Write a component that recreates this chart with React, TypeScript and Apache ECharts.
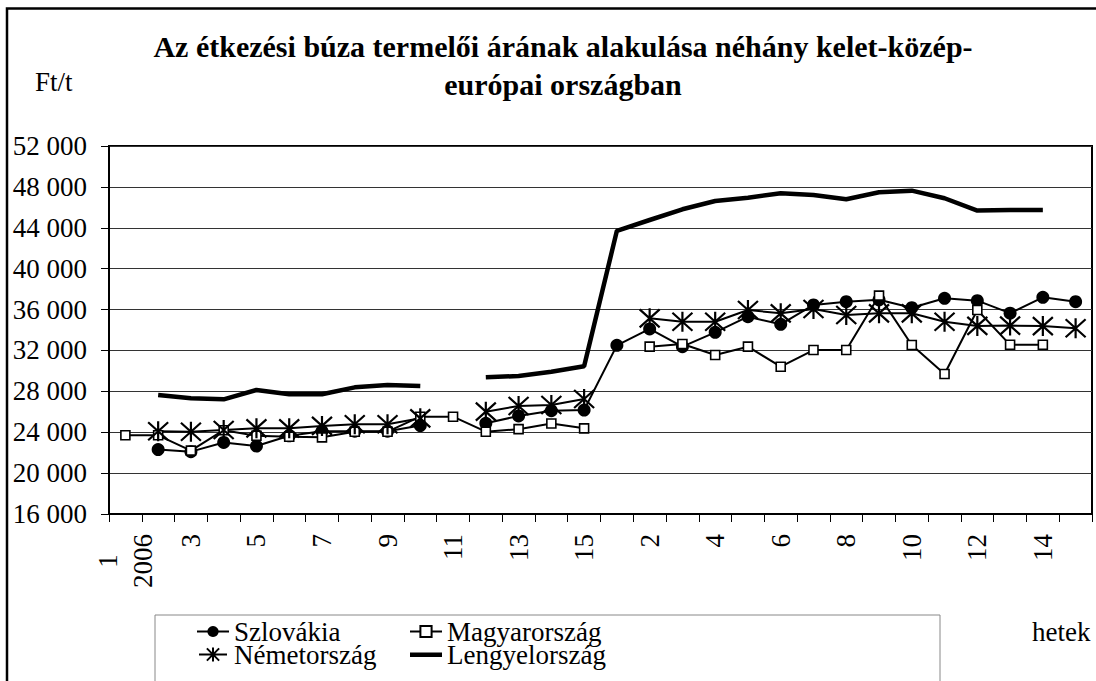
import React, { useEffect, useRef } from "react";
import * as echarts from "echarts";

const categories = ["1\n2006", "2", "3", "4", "5", "6", "7", "8", "9", "10", "11", "12", "13", "14", "15",
  "1", "2", "3", "4", "5", "6", "7", "8", "9", "10", "11", "12", "13", "14", "15"];

const szlovakia = [null, 22300, 22100, 23000, 22650, 23650, 24100, 24100, 24100, 24650, null, 24870, 25590, 26110, 26170,
  32500, 34100, 32370, 33770, 35300, 34560, 36450, 36770, 36950, 36180, 37100, 36870, 35650, 37200, 36770];
const magyarorszag = [23700, 23700, 22200, 24200, 23650, 23550, 23500, 24050, 24050, 25520, 25520, 24050, 24300, 24850, 24380,
  null, 32370, 32630, 31550, 32370, 30410, 32040, 32040, 37360, 32530, 29700, 35960, 32550, 32550, null];
const nemetorszag = [null, 24100, 24050, 24220, 24380, 24380, 24620, 24780, 24780, 25360, null, 26010, 26570, 26660, 27250,
  null, 35140, 34810, 34810, 35960, 35630, 36050, 35470, 35630, 35630, 34810, 34400, 34430, 34380, 34170];
const lengyelorszag = [null, 27640, 27320, 27220, 28130, 27710, 27710, 28390, 28620, 28520, null, 29370, 29500, 29920, 30450,
  43700, 44760, 45810, 46620, 46940, 47370, 47210, 46790, 47470, 47630, 46890, 45680, 45740, 45740, null];

const FONT = "Liberation Serif";
const STAR = "path://M10,0L10,20M1,1L19,19M1,19L19,1";
const STAR_LEGEND = "path://M0,10L32,10M16,2L16,18M9,3L23,17M9,17L23,3";
const THICK_LEGEND = "path://M0,0L0.01,0L0,0.01Z M0,5L32,5L32,9.5L0,9.5Z M0,14L0.01,14L0,13.99Z";

export default function App() {
  const ref = useRef<HTMLDivElement>(null);
  useEffect(() => {
    if (!ref.current) return;
    const chart = echarts.init(ref.current, null, { renderer: "svg" });
    const legendText = { fontFamily: FONT, fontSize: 27, color: "#000", lineHeight: 23 };
    chart.setOption({
      animation: false,
      backgroundColor: "#fff",
      title: {
        text: "Az étkezési búza termelői árának alakulása néhány kelet-közép-\neurópai országban",
        left: 558,
        top: 22,
        textAlign: "center",
        textStyle: { fontFamily: FONT, fontSize: 30, fontWeight: "bold", color: "#000", lineHeight: 38 },
      },
      grid: {
        left: 109, right: 4, top: 146, bottom: 167,
        show: true, borderColor: "#000", borderWidth: 2, backgroundColor: "transparent",
      },
      legend: [
        {
          orient: "vertical", left: 191, top: 613, height: 120, itemGap: -4, itemWidth: 32, itemHeight: 14,
          data: [
            { name: "Szlovákia" },
            { name: "Németország", icon: STAR_LEGEND, itemStyle: { color: "#000", borderColor: "#000", borderWidth: 2 } },
          ],
          textStyle: legendText,
        },
        {
          orient: "vertical", left: 404, top: 613, height: 120, itemGap: -4, itemWidth: 32, itemHeight: 14,
          data: [
            { name: "Magyarország" },
            { name: "Lengyelország", icon: THICK_LEGEND, itemStyle: { color: "#000", borderWidth: 0 } },
          ],
          textStyle: legendText,
        },
      ],
      xAxis: {
        type: "category",
        data: categories,
        boundaryGap: true,
        axisLine: { lineStyle: { color: "#000", width: 2 } },
        axisTick: { show: true, interval: 0, length: 8, lineStyle: { color: "#000", width: 1 } },
        axisLabel: {
          interval: 1,
          rotate: 90,
          margin: 20,
          fontFamily: FONT,
          fontSize: 27,
          color: "#000",
          formatter: (v: string) => (v.indexOf("\n") >= 0 ? v.split("\n").map((s) => `{c|${s}}`).join("\n") : v),
          rich: { c: { align: "center", fontFamily: FONT, fontSize: 27, color: "#000", lineHeight: 35 } },
        },
      },
      yAxis: {
        type: "value",
        min: 16000,
        max: 52000,
        interval: 4000,
        axisLine: { show: true, lineStyle: { color: "#000", width: 2 } },
        axisTick: { show: true, length: 8, lineStyle: { color: "#000", width: 1 } },
        splitLine: { show: true, lineStyle: { color: "#333", width: 1 } },
        axisLabel: {
          margin: 22,
          fontFamily: FONT,
          fontSize: 27,
          color: "#000",
          formatter: (v: number) => String(v).replace(/(\d)(?=(\d{3})+$)/g, "$1 "),
        },
      },
      series: [
        {
          name: "Szlovákia", type: "line", data: szlovakia, connectNulls: false,
          symbol: "circle", symbolSize: 13, showAllSymbol: true,
          lineStyle: { color: "#000", width: 2 },
          itemStyle: { color: "#000" },
        },
        {
          name: "Magyarország", type: "line", data: magyarorszag, connectNulls: false,
          symbol: "rect", symbolSize: 9, showAllSymbol: true,
          lineStyle: { color: "#000", width: 2 },
          itemStyle: { color: "#fff", borderColor: "#000", borderWidth: 1.6 },
        },
        {
          name: "Németország", type: "line", data: nemetorszag, connectNulls: false,
          symbol: STAR, symbolSize: 20, showAllSymbol: true,
          lineStyle: { color: "#000", width: 2 },
          itemStyle: { color: "#000", borderColor: "#000", borderWidth: 2.2 },
        },
        {
          name: "Lengyelország", type: "line", data: lengyelorszag, connectNulls: false,
          symbol: "none", showSymbol: false,
          lineStyle: { color: "#000", width: 4.5 },
          itemStyle: { color: "#000" },
        },
      ],
      graphic: [
        { type: "polyline", shape: { points: [[7, 681], [7, 8.5], [1096, 8.5]] }, style: { stroke: "#000", lineWidth: 2.5, fill: "none" }, silent: true },
        { type: "text", left: 35, top: 68, style: { text: "Ft/t", fontFamily: FONT, fontSize: 27, fill: "#000" } },
        { type: "text", left: 1032, top: 618, style: { text: "hetek", fontFamily: FONT, fontSize: 27, fill: "#000" } },
        { type: "rect", shape: { x: 155, y: 615, width: 785, height: 80 }, style: { stroke: "#888", lineWidth: 1, fill: "none" }, silent: true, z: -1 },
      ],
    });
    return () => chart.dispose();
  }, []);
  return <div ref={ref} style={{ position: "absolute", left: 0, top: 0, width: 1096, height: 681 }} />;
}
